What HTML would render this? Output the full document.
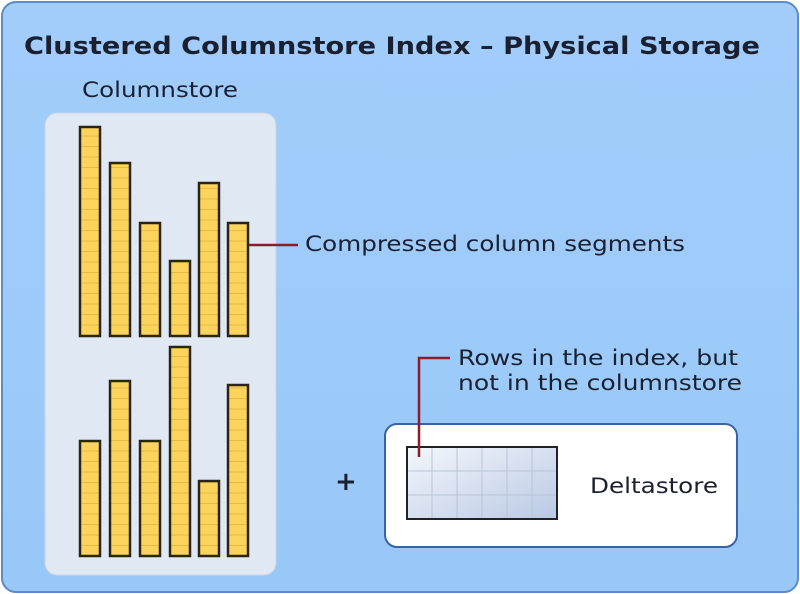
<!DOCTYPE html>
<html><head><style>
html,body{margin:0;padding:0;background:#fff;}
svg{display:block}
text{font-family:"DejaVu Sans","Liberation Sans",sans-serif;fill:#1a2030}
</style></head><body>
<svg width="800" height="594" viewBox="0 0 800 594">
<defs>
<linearGradient id="bg" x1="0" y1="0" x2="0" y2="1"><stop offset="0" stop-color="#a2cdfb"/><stop offset="1" stop-color="#98c8f8"/></linearGradient>
<linearGradient id="gr" x1="0" y1="0" x2="1" y2="1"><stop offset="0" stop-color="#f4f7fc"/><stop offset="1" stop-color="#b9c9e4"/></linearGradient>
<pattern id="seg" width="20" height="10.5" patternUnits="userSpaceOnUse"><rect width="20" height="10.5" fill="#fcd45c"/><line x1="0" y1="10" x2="20" y2="10" stroke="#e0b040" stroke-width="0.8"/></pattern>
</defs>
<rect x="2" y="2" width="796" height="590" rx="14" fill="url(#bg)" stroke="#5a8cc8" stroke-width="2"/>
<text x="24" y="54" font-size="24" font-weight="bold" fill="#111" textLength="736" lengthAdjust="spacingAndGlyphs">Clustered Columnstore Index – Physical Storage</text>
<text x="82" y="97" font-size="21" textLength="156" lengthAdjust="spacingAndGlyphs">Columnstore</text>
<rect x="45" y="113" width="231" height="462" rx="12" fill="#e0e8f4" stroke="#c8d4e4"/>
<g stroke="#2a2418" stroke-width="2.5" fill="url(#seg)">
<rect x="80" y="127" width="20" height="209"/>
<rect x="110" y="163" width="20" height="173"/>
<rect x="140" y="223" width="20" height="113"/>
<rect x="170" y="261" width="20" height="75"/>
<rect x="199" y="183" width="20" height="153"/>
<rect x="228" y="223" width="20" height="113"/>
<rect x="80" y="441" width="20" height="115"/>
<rect x="110" y="381" width="20" height="175"/>
<rect x="140" y="441" width="20" height="115"/>
<rect x="170" y="347" width="20" height="209"/>
<rect x="199" y="481" width="20" height="75"/>
<rect x="228" y="385" width="20" height="171"/>
</g>
<line x1="249" y1="245" x2="298" y2="245" stroke="#8c1c2c" stroke-width="2.5"/>
<text x="305" y="251" font-size="21" textLength="380" lengthAdjust="spacingAndGlyphs">Compressed column segments</text>
<text x="458" y="365" font-size="21" textLength="280" lengthAdjust="spacingAndGlyphs">Rows in the index, but</text>
<text x="458" y="390" font-size="21" textLength="284" lengthAdjust="spacingAndGlyphs">not in the columnstore</text>
<text x="335" y="490" font-size="26" font-weight="bold" fill="#111">+</text>
<rect x="385" y="424" width="352" height="123" rx="12" fill="#fff" stroke="#3a64a0" stroke-width="2"/>
<rect x="407" y="447" width="150" height="72" fill="url(#gr)" stroke="#222" stroke-width="2"/>
<g stroke="#b8c4d6" stroke-width="1">
<line x1="432" y1="448" x2="432" y2="518"/><line x1="457" y1="448" x2="457" y2="518"/><line x1="482" y1="448" x2="482" y2="518"/><line x1="507" y1="448" x2="507" y2="518"/><line x1="532" y1="448" x2="532" y2="518"/>
<line x1="408" y1="471" x2="556" y2="471"/><line x1="408" y1="495" x2="556" y2="495"/>
</g>
<polyline points="450,358 419,358 419,457" fill="none" stroke="#8c1c2c" stroke-width="2.5"/>
<text x="590" y="493" font-size="21" textLength="128" lengthAdjust="spacingAndGlyphs">Deltastore</text>
</svg>
</body></html>
